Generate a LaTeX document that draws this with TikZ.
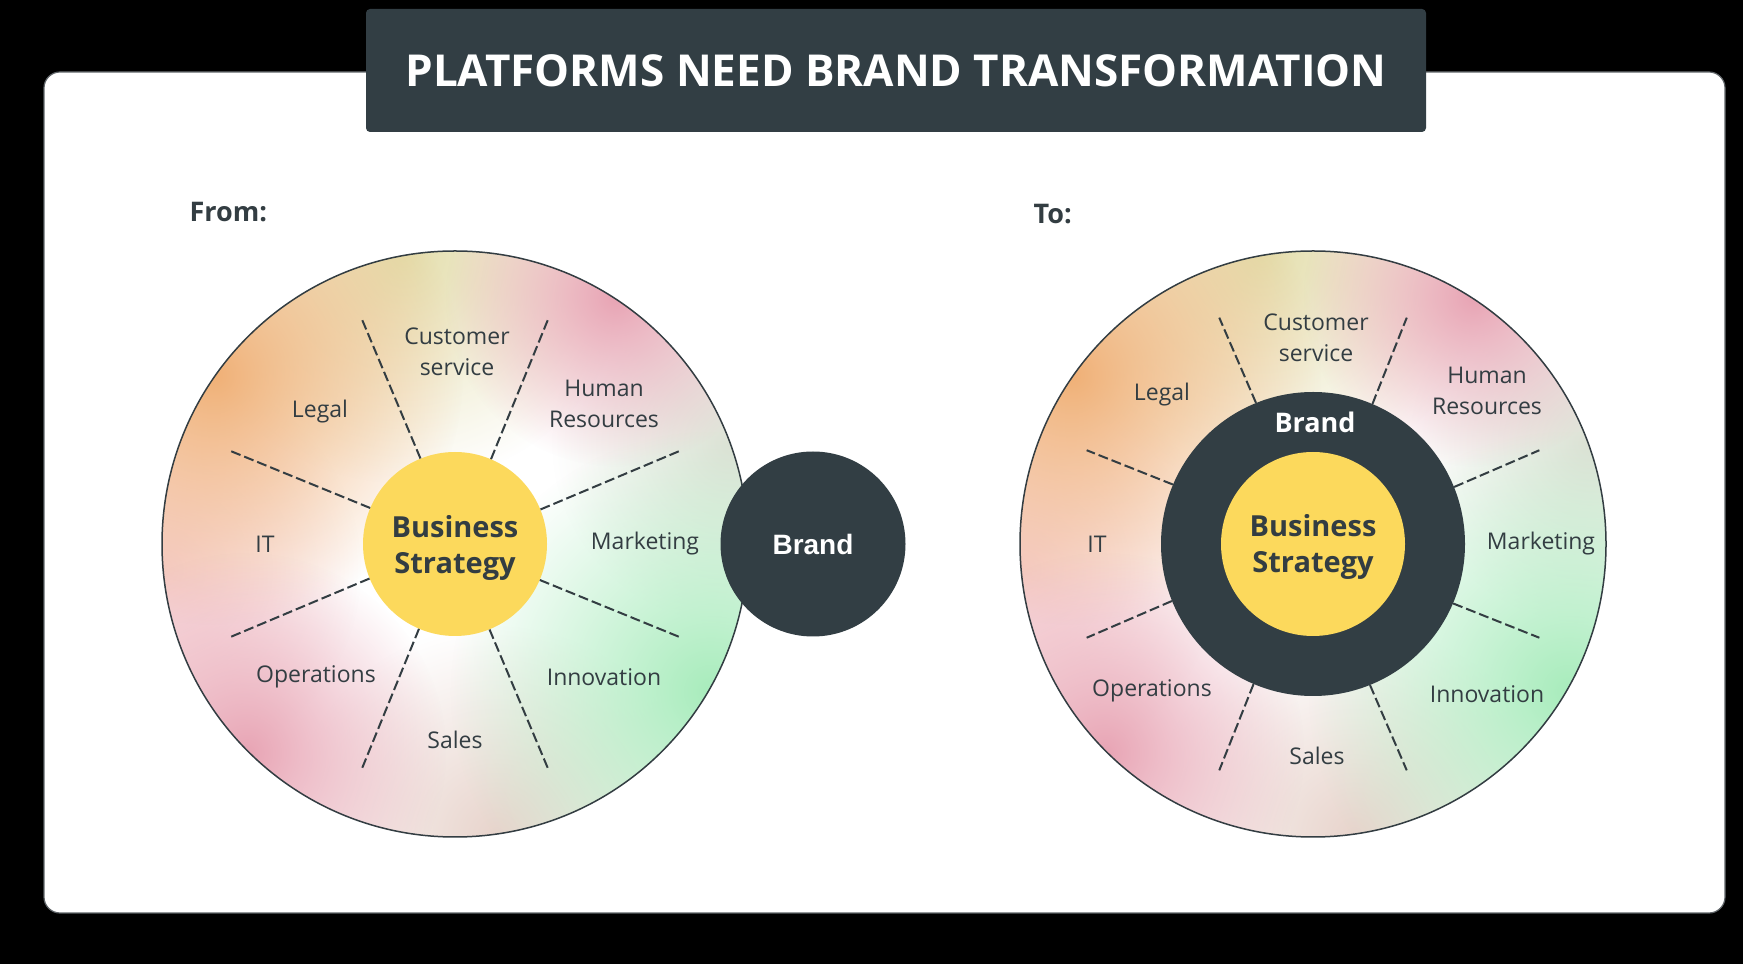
\documentclass[tikz,border=0pt]{standalone}
\usepackage{fontspec}
\setmainfont{Open Sans}
\newfontfamily\arialfont{Liberation Sans}
\usetikzlibrary{positioning, calc, fadings}

\definecolor{slate}{RGB}{50,62,68}
\definecolor{ink}{RGB}{51,61,66}
\definecolor{gold}{RGB}{252,217,92}
\definecolor{rim}{RGB}{95,100,104}
\definecolor{peach}{RGB}{240,176,118}
\definecolor{straw}{RGB}{228,222,172}
\definecolor{rose}{RGB}{232,164,180}
\definecolor{haze}{RGB}{222,226,214}
\definecolor{mint}{RGB}{168,236,188}
\definecolor{sand}{RGB}{232,212,204}
\definecolor{blush}{RGB}{246,208,210}

\tikzfading[name=blob, inner color=transparent!0, outer color=transparent!100]

\begin{document}
\begin{tikzpicture}[x=1pt, y=1pt,
    lbl/.style={text=ink, align=center, font=\fontsize{23}{31}\selectfont},
    hub/.style={circle, fill=gold, minimum size=184pt, inner sep=0pt},
    hubtext/.style={text=ink, align=center, font=\fontsize{29}{35.5}\selectfont\bfseries},
    wheel/.style={circle, minimum size=586pt, inner sep=0pt, fill=white},
    divider/.style={draw=ink, line width=2pt, dash pattern=on 10pt off 4pt},
    heading/.style={text=ink, anchor=base west, font=\fontsize{27}{30}\selectfont\bfseries}]

    % background and panel
    \fill[black] (0,0) rectangle (1743,964);
    \draw[fill=white, draw=rim, line width=1.2pt, rounded corners=16pt] (44,51) rectangle (1725,892);

    \node (title) at (896,893.5) [fill=slate, rounded corners=4pt, minimum width=1060pt, minimum height=123pt, text=white, font=\fontsize{44}{48}\selectfont\bfseries] {PLATFORMS NEED BRAND TRANSFORMATION};

    \node (from) at (186,742) [heading] {From:};
    \node (to) at (1030,740) [heading] {To:};

    % the two wheels
    \node (wheelL) at (455,420) [wheel] {};
    \node (wheelR) at (1313,420) [wheel] {};

    \foreach \w in {wheelL, wheelR} {
        \begin{scope}
            \clip (\w.center) circle (293);
            \fill[blush, path fading=blob] ($(\w.center)+(185:295)$) circle (200);
            \fill[haze, path fading=blob] ($(\w.center)+(20:295)$) circle (180);
            \fill[sand, path fading=blob] ($(\w.center)+(-82:295)$) circle (210);
            \fill[straw, path fading=blob] ($(\w.center)+(100:295)$) circle (230);
            \fill[peach, path fading=blob] ($(\w.center)+(145:295)$) circle (250);
            \fill[rose, path fading=blob] ($(\w.center)+(57:295)$) circle (170);
            \fill[mint, path fading=blob] ($(\w.center)+(-30:295)$) circle (260);
            \fill[rose, path fading=blob] ($(\w.center)+(-135:295)$) circle (200);
        \end{scope}
        \draw[draw=ink, line width=1.5pt] (\w.center) circle (293);
    }

    % from: strategy alone, brand outside
    \node (bsL) at (wheelL.center) [hub] {};
    \node (bsLtext) at ([yshift=-4pt]bsL.center) [hubtext] {Business\\Strategy};
    \foreach \a in {22.5,67.5,...,337.5}
        \draw[divider] (bsL.\a) -- ($(wheelL.center)+(\a:245)$);
    \node (brandL) at (813,420) [circle, fill=slate, minimum size=185pt, inner sep=0pt, text=white, font=\arialfont\fontsize{28}{30}\selectfont\bfseries] {Brand};

    \node (csL) at (457,612) [lbl] {Customer\\service};
    \node (hrL) at (604,560) [lbl] {Human\\Resources};
    \node (legalL) at (320,552) [lbl] {Legal};
    \node (mktL) at (645,420) [lbl] {Marketing};
    \node (itL) at (265,420) [lbl] {IT};
    \node (opsL) at (316,287) [lbl] {Operations};
    \node (salesL) at (455,224) [lbl] {Sales};
    \node (innL) at (604,287) [lbl] {Innovation};

    % to: brand wraps strategy
    \node (ringR) at (wheelR.center) [circle, fill=slate, minimum size=304pt, inner sep=0pt] {};
    \node (bsR) at (wheelR.center) [hub] {};
    \node (bsRtext) at ([yshift=-3pt]bsR.center) [hubtext] {Business\\Strategy};
    \node (brandR) at (1315,542) [text=white, font=\fontsize{27}{30}\selectfont\bfseries] {Brand};
    \foreach \a in {22.5,67.5,...,337.5}
        \draw[divider] (ringR.\a) -- ($(wheelR.center)+(\a:245)$);

    \node (csR) at (1316,626) [lbl] {Customer\\service};
    \node (hrR) at (1487,573) [lbl] {Human\\Resources};
    \node (legalR) at (1162,569) [lbl] {Legal};
    \node (mktR) at (1541,420) [lbl] {Marketing};
    \node (itR) at (1097,420) [lbl] {IT};
    \node (opsR) at (1152,273) [lbl] {Operations};
    \node (salesR) at (1317,208) [lbl] {Sales};
    \node (innR) at (1487,270) [lbl] {Innovation};
\end{tikzpicture}
\end{document}
